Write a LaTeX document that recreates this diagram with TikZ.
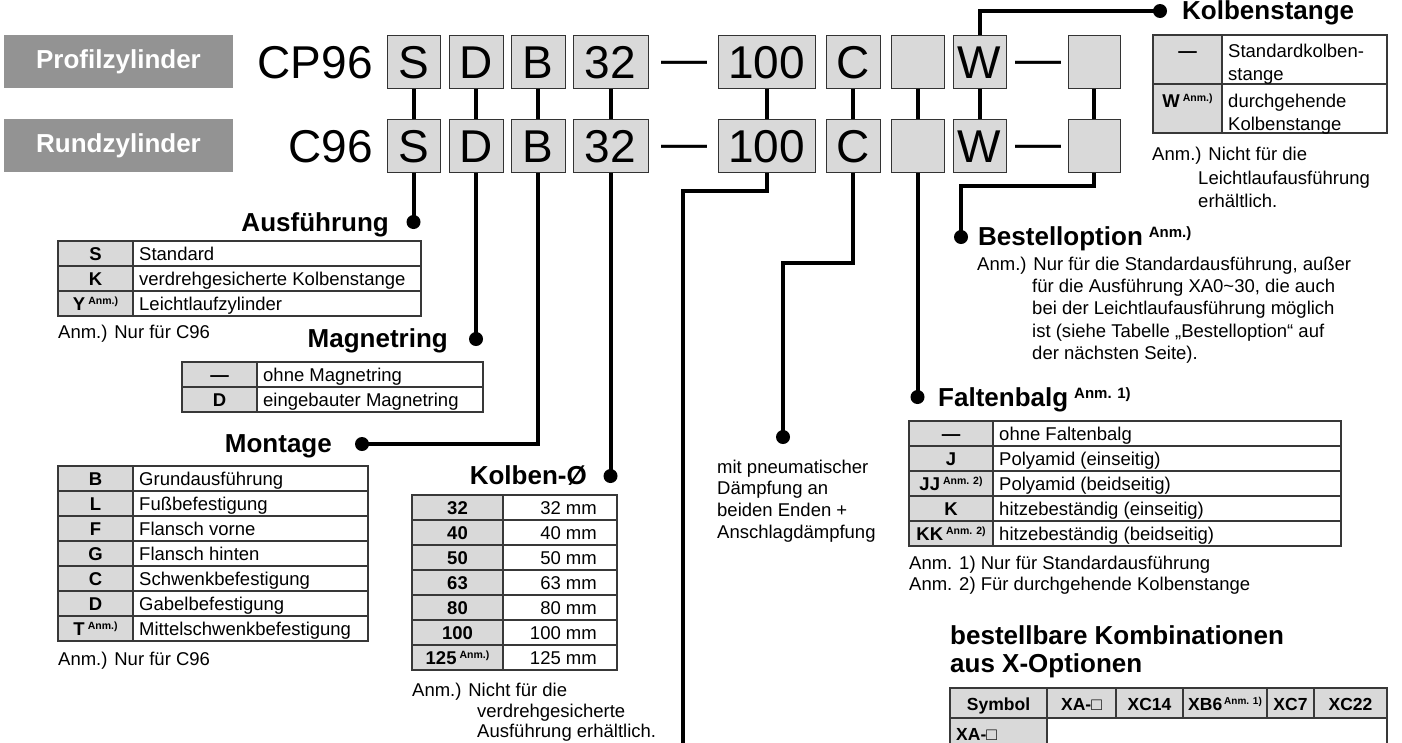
\documentclass[tikz,border=0pt]{standalone}
\usepackage{fontspec}
\setmainfont{Liberation Sans}
\definecolor{keygray}{HTML}{D9D9D9}
\definecolor{hdrgray}{HTML}{939393}
\newcommand\fbody{\fontsize{18.5}{22}\selectfont}
\newcommand\fhead{\fontsize{26}{30}\selectfont\bfseries}
\newcommand\fcode{\fontsize{46}{50}\selectfont}
\newcommand\supA[1]{\hspace{3pt}\raisebox{5.5pt}{\fontsize{10.5}{12}\selectfont\bfseries #1}}
\newcommand\supX[1]{\hspace{2pt}\raisebox{5.5pt}{\fontsize{10}{12}\selectfont\bfseries #1}}
\newcommand\supH[1]{\hspace{6pt}\raisebox{7.5pt}{\fontsize{15}{17}\selectfont\bfseries #1}}
% table row: name, x0, xc, x1, ytop, key, text
\newcommand\trow[7]{%
  \fill[keygray] (#2,#5) rectangle (#3,#5+25);
  \draw[tline] (#2,#5) rectangle (#4,#5+25) (#3,#5) -- (#3,#5+25);
  \node[keytext] (#1k) at ({(#2+#3)/2},#5+19) {#6};
  \node[body] (#1v) at (#3+6,#5+19) {#7};
}
\newcommand\trowR[7]{%
  \fill[keygray] (#2,#5) rectangle (#3,#5+25);
  \draw[tline] (#2,#5) rectangle (#4,#5+25) (#3,#5) -- (#3,#5+25);
  \node[keytext] (#1k) at ({(#2+#3)/2},#5+19) {#6};
  \node[body, anchor=base east] (#1v) at (#4-20,#5+19) {#7};
}
\begin{document}
\begin{tikzpicture}[x=1pt,y=-1pt,
  tline/.style={draw=black!78, line width=1.1pt},
  conn/.style={line width=4pt, black},
  dot/.style={circle, fill=black, inner sep=0pt, minimum size=14pt},
  codebox/.style={draw=black!80, line width=1pt, fill=keygray, minimum height=53pt, inner sep=0pt, font=\fcode, text height=33pt, text depth=0pt},
  codetext/.style={inner sep=0pt, font=\fcode},
  hdrbox/.style={fill=hdrgray, minimum width=229pt, minimum height=53pt, inner sep=0pt, font=\fhead, text=white},
  heading/.style={inner sep=0pt, font=\fhead},
  body/.style={inner sep=0pt, font=\fbody, anchor=base west},
  keytext/.style={inner sep=0pt, font=\fbody\bfseries, anchor=base},
  xhead/.style={inner sep=0pt, font=\fontsize{17.5}{21}\selectfont\bfseries, anchor=base},
]
\useasboundingbox (0,0) rectangle (1402,742);

% ---- header boxes
\node[hdrbox] (profil) at (118.5,61.5) {Profilzylinder};
\node[hdrbox] (rund) at (118.5,145.5) {Rundzylinder};
\node[codetext, anchor=base east] (cp96) at (373,78) {CP96};
\node[codetext, anchor=base east] (c96) at (373,162) {C96};

% ---- code boxes, row 1 and row 2
\foreach \r/\y in {1/61.5, 2/145.5}{
  \node[codebox, minimum width=53pt] (s\r) at (413.5,\y) {S};
  \node[codebox, minimum width=54pt] (d\r) at (476,\y) {D};
  \node[codebox, minimum width=54pt] (b\r) at (538,\y) {B};
  \node[codebox, minimum width=75pt] (t\r) at (610.5,\y) {32};
  \node[codebox, minimum width=97pt] (h\r) at (766.5,\y) {100};
  \node[codebox, minimum width=54pt] (c\r) at (853,\y) {C};
  \node[codebox, minimum width=53pt] (e\r) at (917.5,\y) {};
  \node[codebox, minimum width=53pt] (w\r) at (979.5,\y) {W};
  \node[codebox, minimum width=52pt] (l\r) at (1094,\y) {};
}
\node[codetext, anchor=base] (dashA1) at (684,74) {—};
\node[codetext, anchor=base] (dashA2) at (684,158) {—};
\node[codetext, anchor=base] (dashB1) at (1038.5,74) {—};
\node[codetext, anchor=base] (dashB2) at (1038.5,158) {—};

% ---- dots
\node[dot] (dAus) at (413.5,222) {};
\node[dot] (dMag) at (476,339) {};
\node[dot] (dMon) at (362,444) {};
\node[dot] (dKol) at (610.5,476) {};
\node[dot] (dKst) at (1160,11) {};
\node[dot] (dBest) at (961,237) {};
\node[dot] (dFalt) at (917.5,397) {};
\node[dot] (dDaemp) at (783,437) {};
\coordinate (hubend) at (683,750);

% ---- connectors
\foreach \n in {s,d,b,t,h,c,e,w,l}{ \draw[conn] (\n1) -- (\n2); }
\draw[conn] (s2.south) -- (dAus.center);
\draw[conn] (d2.south) -- (dMag.center);
\draw[conn] (b2.south) |- (dMon.center);
\draw[conn] (t2.south) -- (dKol.center);
\draw[conn] (h2.south) -- ++(0,18) -| (hubend);
\draw[conn] (c2.south) -- ++(0,90) -| (dDaemp.center);
\draw[conn] (e2.south) -- (dFalt.center);
\draw[conn] (w1.north) |- (dKst.center);
\draw[conn] (l2.south) -- ++(0,13) -| (dBest.center);

% ---- headings
\node[heading, anchor=base east] (hAus) at (389,231) {Ausführung};
\node[heading, anchor=base east] (hMag) at (448,347) {Magnetring};
\node[heading, anchor=base east] (hMon) at (332,452) {Montage};
\node[heading, anchor=base east] (hKol) at (587,484) {Kolben-Ø};
\node[heading, anchor=base west] (hKst) at (1182,19.5) {Kolbenstange};
\node[heading, anchor=base west] (hBest) at (978,245) {Bestelloption\supH{Anm.)}};
\node[heading, anchor=base west] (hFalt) at (938,406) {Faltenbalg\supH{Anm. 1)}};
\node[heading, anchor=base west] (hKomb1) at (950,644) {bestellbare Kombinationen};
\node[heading, anchor=base west] (hKomb2) at (950,672) {aus X-Optionen};

% ---- Ausfuehrung table
\trow{aS}{58}{133}{421}{241}{S}{Standard}
\trow{aK}{58}{133}{421}{266}{K}{verdrehgesicherte Kolbenstange}
\trow{aY}{58}{133}{421}{291}{Y\supA{Anm.)}}{Leichtlaufzylinder}
\node[body] (nAus) at (58,338) {Anm.) Nur für C96};

% ---- Magnetring table
\trow{mN}{182}{257}{483}{362}{—}{ohne Magnetring}
\trow{mD}{182}{257}{483}{387}{D}{eingebauter Magnetring}

% ---- Montage table
\trow{oB}{58}{133}{368}{466}{B}{Grundausführung}
\trow{oL}{58}{133}{368}{491}{L}{Fußbefestigung}
\trow{oF}{58}{133}{368}{516}{F}{Flansch vorne}
\trow{oG}{58}{133}{368}{541}{G}{Flansch hinten}
\trow{oC}{58}{133}{368}{566}{C}{Schwenkbefestigung}
\trow{oD}{58}{133}{368}{591}{D}{Gabelbefestigung}
\trow{oT}{58}{133}{368}{616}{T\supA{Anm.)}}{Mittelschwenkbefestigung}
\node[body] (nMon) at (58,665) {Anm.) Nur für C96};

% ---- Kolben table
\trowR{k32}{412}{503}{617}{495}{32}{32 mm}
\trowR{k40}{412}{503}{617}{520}{40}{40 mm}
\trowR{k50}{412}{503}{617}{545}{50}{50 mm}
\trowR{k63}{412}{503}{617}{570}{63}{63 mm}
\trowR{k80}{412}{503}{617}{595}{80}{80 mm}
\trowR{k100}{412}{503}{617}{620}{100}{100 mm}
\trowR{k125}{412}{503}{617}{645}{125\supA{Anm.)}}{125 mm}
\node[body] (nKol1) at (412,696) {Anm.) Nicht für die};
\node[body] (nKol2) at (477,717) {verdrehgesicherte};
\node[body] (nKol3) at (477,737) {Ausführung erhältlich.};

% ---- Daempfung text
\node[body] (dae1) at (717,473) {mit pneumatischer};
\node[body] (dae2) at (717,494) {Dämpfung an};
\node[body] (dae3) at (717,516) {beiden Enden +};
\node[body] (dae4) at (717,538) {Anschlagdämpfung};

% ---- Kolbenstange table
\fill[keygray] (1153,35) rectangle (1222,133);
\draw[tline] (1153,35) rectangle (1387,133) (1222,35) -- (1222,133) (1153,84) -- (1387,84);
\node[keytext] (ksk1) at (1187.5,57) {—};
\node[body] (ksv1a) at (1228,57) {Standardkolben-};
\node[body] (ksv1b) at (1228,80) {stange};
\node[keytext] (ksk2) at (1187.5,107) {W\supA{Anm.)}};
\node[body] (ksv2a) at (1228,107) {durchgehende};
\node[body] (ksv2b) at (1228,130) {Kolbenstange};
\node[body] (nKst1) at (1152,160) {Anm.) Nicht für die};
\node[body] (nKst2) at (1198,184) {Leichtlaufausführung};
\node[body] (nKst3) at (1198,207) {erhältlich.};

% ---- Bestelloption note
\node[body] (nB1) at (977,270) {Anm.) Nur für die Standardausführung, außer};
\node[body] (nB2) at (1032,292) {für die Ausführung XA0\textasciitilde30, die auch};
\node[body] (nB3) at (1032,314) {bei der Leichtlaufausführung möglich};
\node[body] (nB4) at (1032,337) {ist (siehe Tabelle „Bestelloption“ auf};
\node[body] (nB5) at (1032,359) {der nächsten Seite).};

% ---- Faltenbalg table
\trow{fN}{909}{993}{1341}{421}{—}{ohne Faltenbalg}
\trow{fJ}{909}{993}{1341}{446}{J}{Polyamid (einseitig)}
\trow{fJJ}{909}{993}{1341}{471}{JJ\supA{Anm. 2)}}{Polyamid (beidseitig)}
\trow{fK}{909}{993}{1341}{496}{K}{hitzebeständig (einseitig)}
\trow{fKK}{909}{993}{1341}{521}{KK\supA{Anm. 2)}}{hitzebeständig (beidseitig)}
\node[body] (nF1) at (909,569) {Anm. 1) Nur für Standardausführung};
\node[body] (nF2) at (909,590) {Anm. 2) Für durchgehende Kolbenstange};

% ---- X options table
\fill[keygray] (950,688) rectangle (1387,718);
\fill[keygray] (950,718) rectangle (1047,752);
\draw[tline] (950,688) rectangle (1387,752) (950,718) -- (1387,718);
\foreach \xx in {1116,1183,1267,1314}{ \draw[tline] (\xx,688) -- (\xx,718); }
\draw[tline] (1047,688) -- (1047,752);
\node[xhead] (xh1) at (998.5,710) {Symbol};
\node[xhead] (xh2) at (1081.5,710) {XA-□};
\node[xhead] (xh3) at (1149.5,710) {XC14};
\node[xhead] (xh4) at (1225,710) {XB6\supX{Anm. 1)}};
\node[xhead] (xh5) at (1290.5,710) {XC7};
\node[xhead] (xh6) at (1350.5,710) {XC22};
\node[xhead, anchor=base west] (xr1) at (956,740) {XA-□};
\end{tikzpicture}
\end{document}
